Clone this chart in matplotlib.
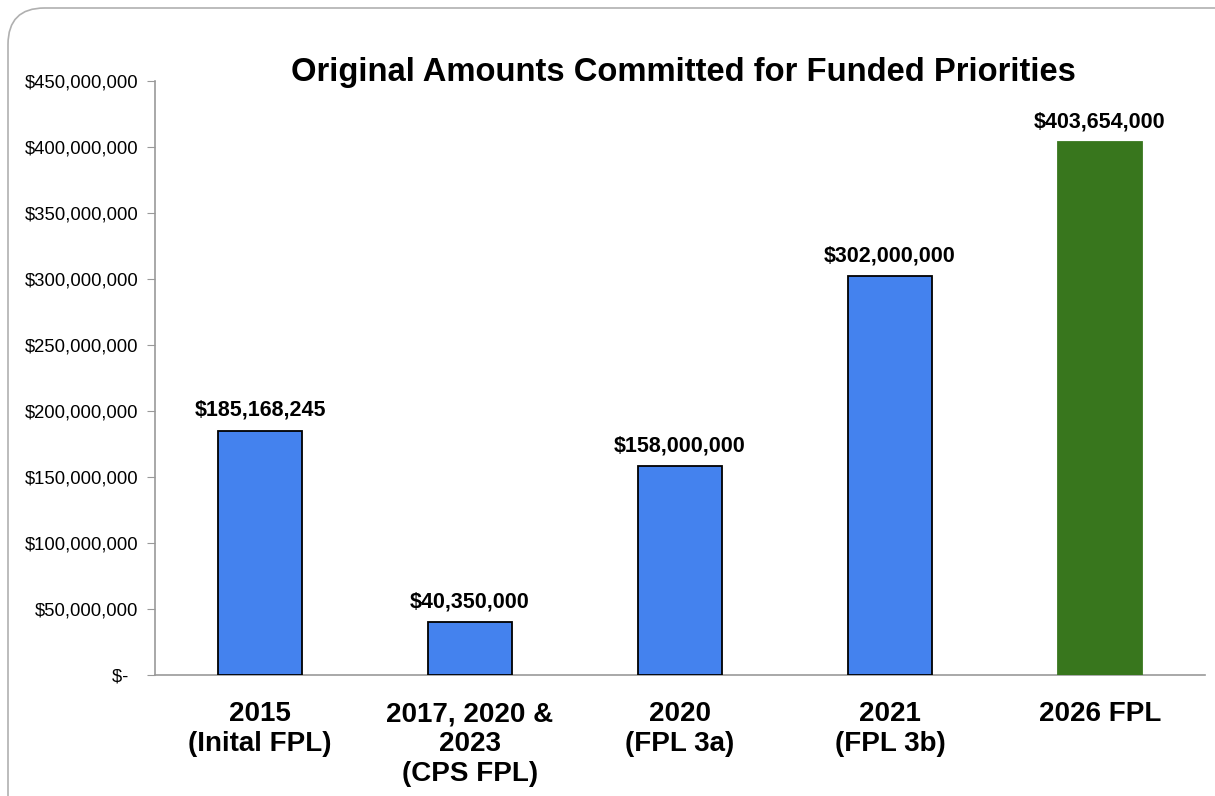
import numpy as np
import matplotlib.pyplot as plt
from matplotlib.patches import FancyBboxPatch
from matplotlib.ticker import FuncFormatter

categories = ['2015\n(Inital FPL)', '2017, 2020 &\n2023\n(CPS FPL)', '2020\n(FPL 3a)',
              '2021\n(FPL 3b)', '2026 FPL']
amounts = [185168245, 40350000, 158000000, 302000000, 403654000]
bar_colors = ['#4482EE', '#4482EE', '#4482EE', '#4482EE', '#38761D']
edge_colors = ['black', 'black', 'black', 'black', '#38761D']

plt.rcParams['font.family'] = ['Liberation Sans', 'DejaVu Sans']

fig = plt.figure(figsize=(12.15, 7.96), dpi=100)
W, H = 1215, 796

# rounded frame around the chart
frame = FancyBboxPatch((8 / W, -0.05), 1.2, 1.05 - 8 / H,
                       boxstyle='round,pad=0,rounding_size=0.03',
                       transform=fig.transFigure, fill=False,
                       edgecolor='#b0b0b0', linewidth=1.2, mutation_aspect=W / H)
fig.patches.append(frame)

ax = fig.add_axes([155 / W, 1 - 675 / H, 1050 / W, 594 / H])
x = np.arange(len(amounts))
ax.bar(x, amounts, width=0.4, color=bar_colors, edgecolor=edge_colors, linewidth=1.3, zorder=3)

for xi, v in zip(x, amounts):
    ax.annotate(f'${v:,.0f}', (xi, v), xytext=(0, 7), textcoords='offset points',
                ha='center', va='bottom', fontsize=15.5, fontweight='bold')

ax.set_xlim(-0.5, 4.5)
ax.set_ylim(0, 450000000)
ax.set_yticks(np.arange(0, 450000001, 50000000))


def money(v, pos):
    if v == 0:
        return '$-  '
    return f'${v:,.0f}'


ax.yaxis.set_major_formatter(FuncFormatter(money))
ax.set_xticks(x)
ax.set_xticklabels(categories, fontsize=20, fontweight='bold', linespacing=1.2)
ax.tick_params(axis='x', length=0, pad=19)
ax.tick_params(axis='y', labelsize=13.3, length=6, color='#999999', pad=6)

for s in ['top', 'right']:
    ax.spines[s].set_visible(False)
for s in ['left', 'bottom']:
    ax.spines[s].set_color('#999999')
    ax.spines[s].set_linewidth(1.2)

fig.text(683 / W, 1 - 81 / H, 'Original Amounts Committed for Funded Priorities',
         ha='center', va='baseline', fontsize=23.6, fontweight='bold')

fig.savefig('out.png', dpi=100)
